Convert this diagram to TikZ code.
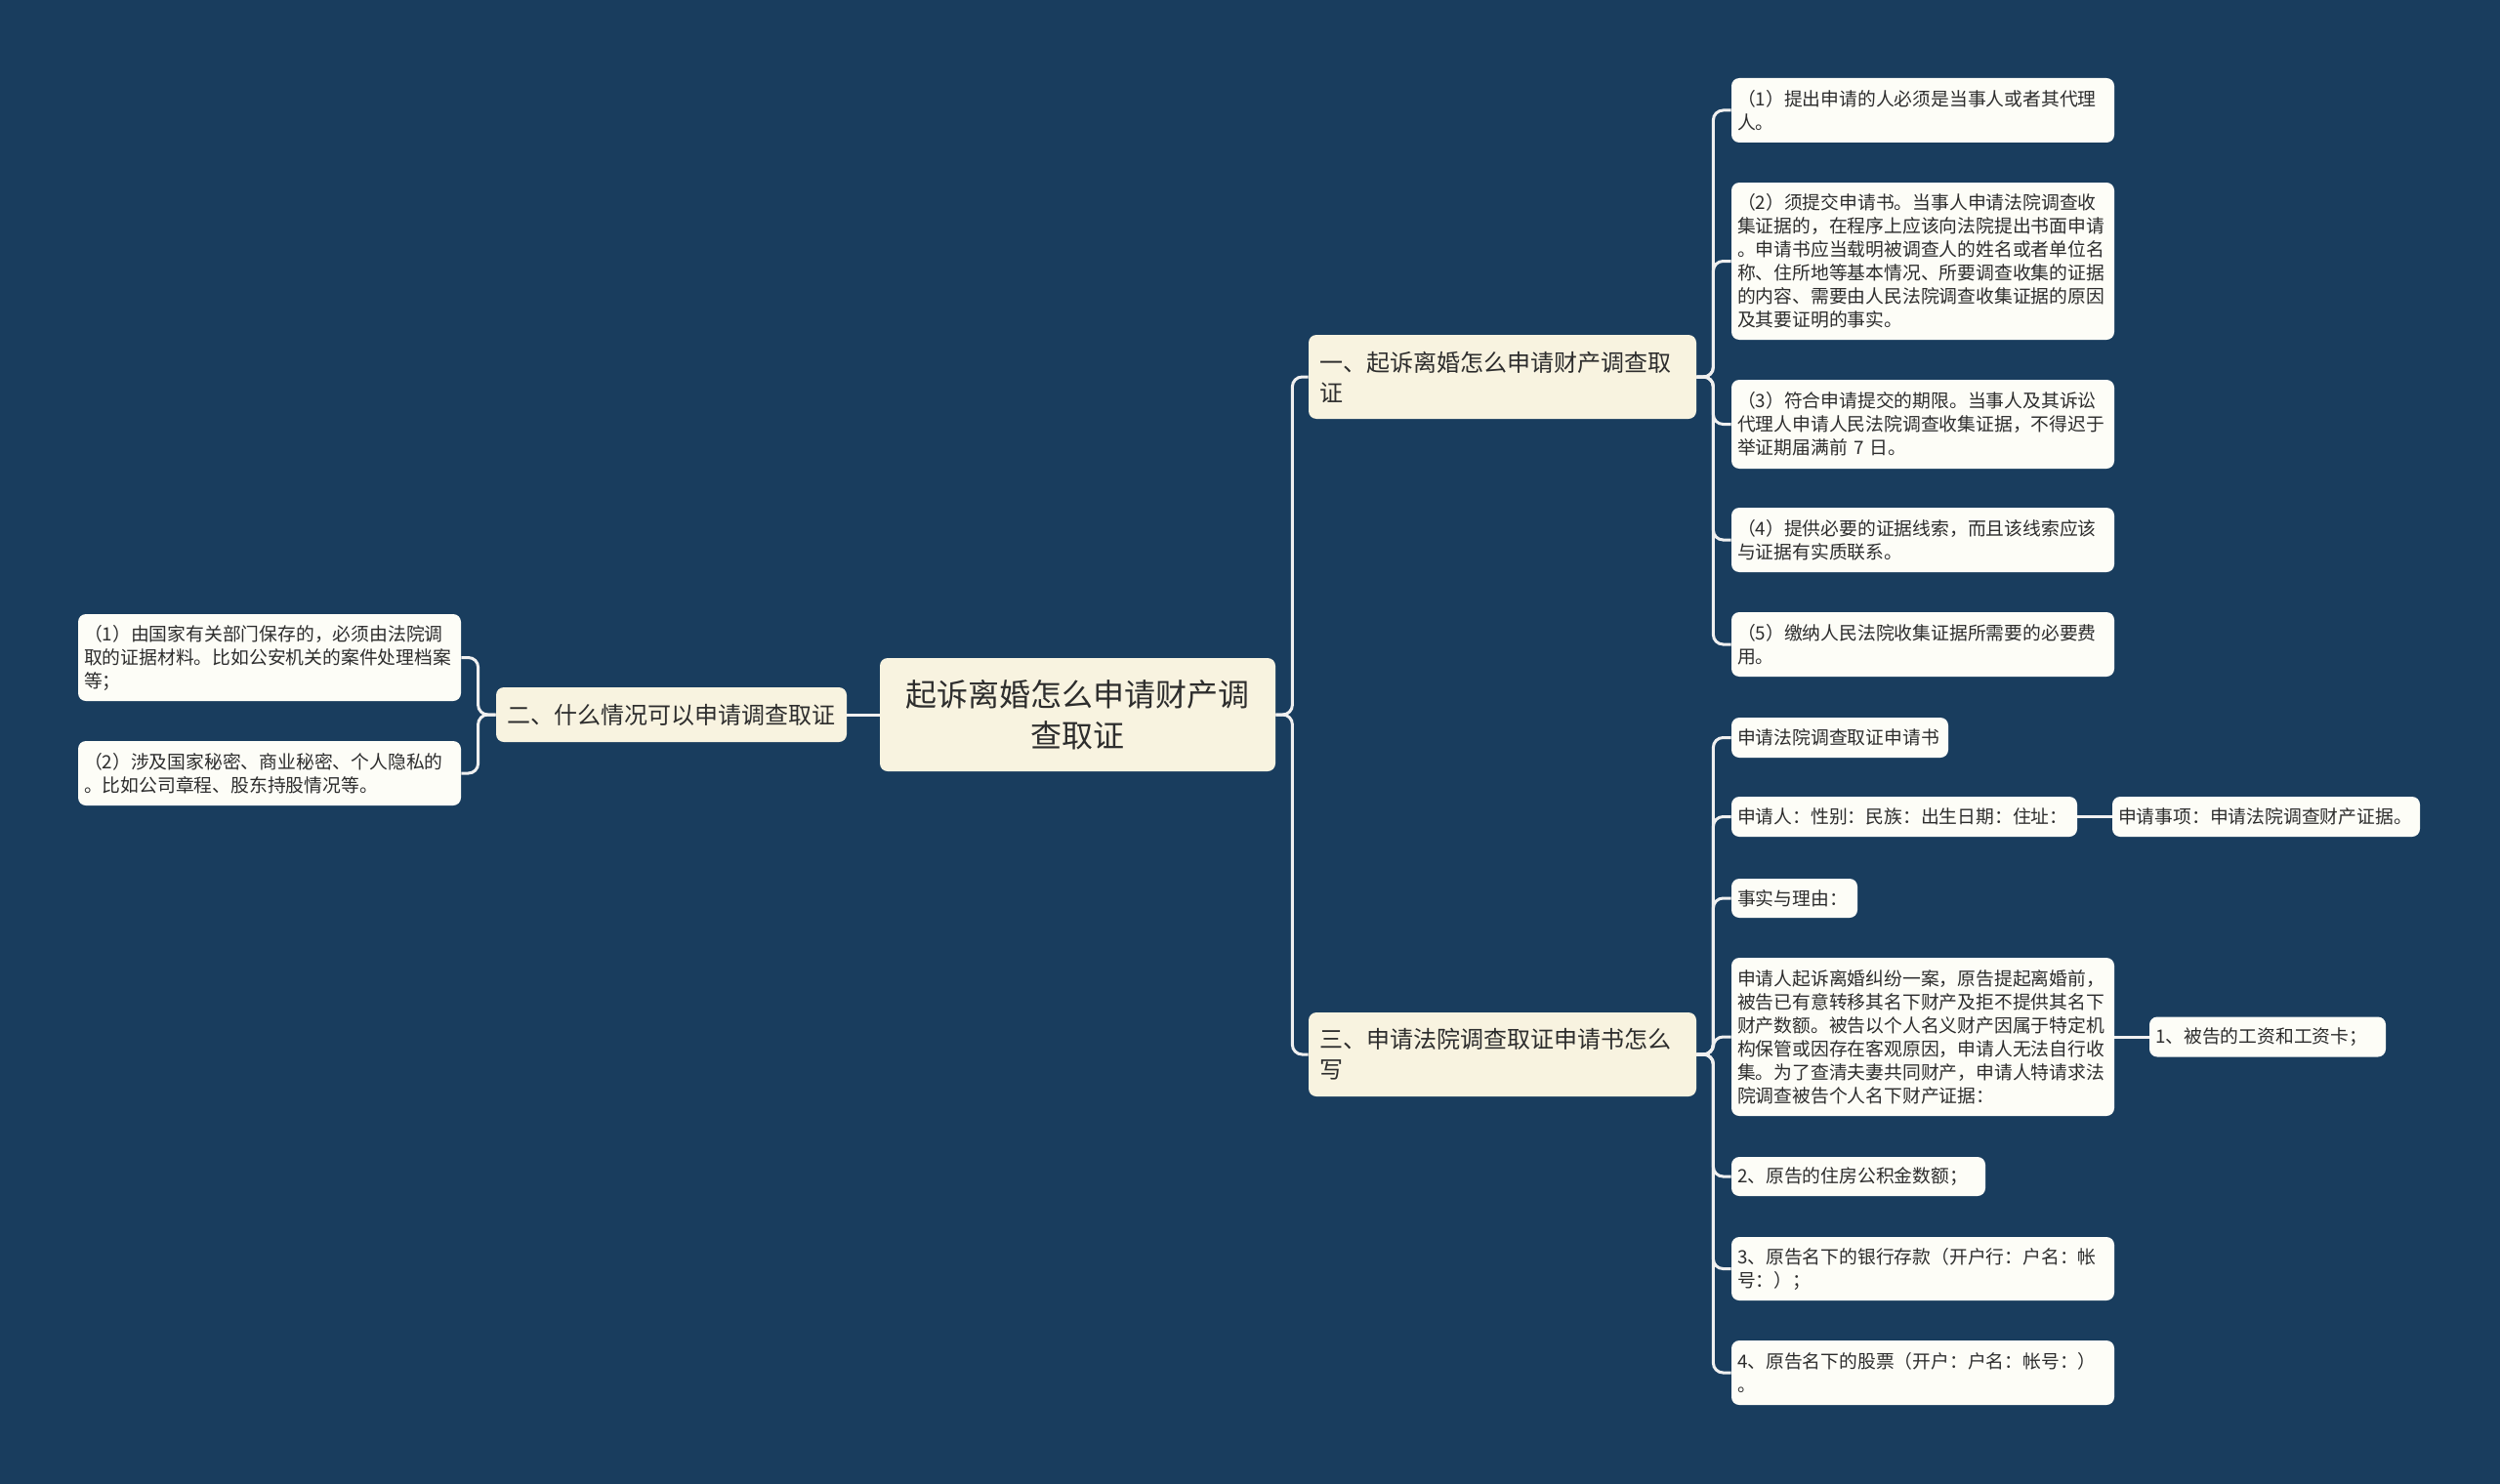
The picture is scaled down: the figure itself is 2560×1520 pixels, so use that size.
\documentclass[tikz,border=0pt]{standalone}
\usepackage{fontspec}
\setmainfont{Noto Sans CJK SC}
\definecolor{bg}{RGB}{25,61,94}
\definecolor{mainfill}{RGB}{248,243,224}
\definecolor{leaffill}{RGB}{253,253,247}
\definecolor{txt}{RGB}{45,45,45}
\definecolor{linec}{RGB}{240,240,240}
\begin{document}
\begin{tikzpicture}[x=0.5pt,y=-0.5pt,
  conn/.style={draw=linec, line width=1.5pt, rounded corners=5pt},
  rootbox/.style={fill=mainfill, rounded corners=4pt, text=txt, font=\fontsize{16}{21}\selectfont, align=center, inner xsep=8pt, inner ysep=0pt, text width=186.5pt},
  secbox/.style={fill=mainfill, rounded corners=4pt, text=txt, font=\fontsize{12}{15.5}\selectfont, align=left, inner xsep=5.5pt, inner ysep=0pt},
  leaf/.style={fill=leaffill, rounded corners=4pt, text=txt, font=\fontsize{9.4}{12}\selectfont, align=left, inner xsep=3pt, inner ysep=0pt}
]
\fill[bg] (0,0) rectangle (2560,1520);
\useasboundingbox (0,0) rectangle (2560,1520);

% root and sections
\node[rootbox, minimum height=58pt] (root) at (1103.5,732) {起诉离婚怎么申请财产调\\查取证};
\node[secbox, text width=187.5pt, minimum height=43pt] (s1) at (1538.5,386) {一、起诉离婚怎么申请财产调查取\\证};
\node[secbox, text width=168.5pt, minimum height=28pt] (s2) at (687.5,732) {二、什么情况可以申请调查取证};
\node[secbox, text width=187.5pt, minimum height=43pt] (s3) at (1538.5,1080) {三、申请法院调查取证申请书怎么\\写};

% section 1 leaves
\node[leaf, text width=190pt, minimum height=33pt] (r1) at (1969,113) {（1）提出申请的人必须是当事人或者其代理\\人。};
\node[leaf, text width=190pt, minimum height=80.5pt] (r2) at (1969,267.5) {（2）须提交申请书。当事人申请法院调查收\\集证据的，在程序上应该向法院提出书面申请\\。申请书应当载明被调查人的姓名或者单位名\\称、住所地等基本情况、所要调查收集的证据\\的内容、需要由人民法院调查收集证据的原因\\及其要证明的事实。};
\node[leaf, text width=190pt, minimum height=45.5pt] (r3) at (1969,434.5) {（3）符合申请提交的期限。当事人及其诉讼\\代理人申请人民法院调查收集证据，不得迟于\\举证期届满前 7 日。};
\node[leaf, text width=190pt, minimum height=33pt] (r4) at (1969,553) {（4）提供必要的证据线索，而且该线索应该\\与证据有实质联系。};
\node[leaf, text width=190pt, minimum height=33pt] (r5) at (1969,660) {（5）缴纳人民法院收集证据所需要的必要费\\用。};

% section 2 leaves
\node[leaf, text width=190pt, minimum height=44.5pt] (l1) at (276,673.5) {（1）由国家有关部门保存的，必须由法院调\\取的证据材料。比如公安机关的案件处理档案\\等；};
\node[leaf, text width=190pt, minimum height=33pt] (l2) at (276,792) {（2）涉及国家秘密、商业秘密、个人隐私的\\。比如公司章程、股东持股情况等。};

% section 3 leaves
\node[leaf, text width=105pt, minimum height=20.5pt] (c1) at (1884,755.5) {申请法院调查取证申请书};
\node[leaf, text width=171pt, minimum height=20.5pt] (c2) at (1950,836.5) {申请人：性别：民族：出生日期：住址：};
\node[leaf, text width=151.5pt, minimum height=20.5pt] (c2a) at (2320.5,836.5) {申请事项：申请法院调查财产证据。};
\node[leaf, text width=58.5pt, minimum height=20pt] (c3) at (1837.5,920) {事实与理由：};
\node[leaf, text width=190pt, minimum height=81pt] (c4) at (1969,1062) {申请人起诉离婚纠纷一案，原告提起离婚前，\\被告已有意转移其名下财产及拒不提供其名下\\财产数额。被告以个人名义财产因属于特定机\\构保管或因存在客观原因，申请人无法自行收\\集。为了查清夫妻共同财产，申请人特请求法\\院调查被告个人名下财产证据：};
\node[leaf, text width=115pt, minimum height=20.5pt] (c4a) at (2322,1062) {1、被告的工资和工资卡；};
\node[leaf, text width=124pt, minimum height=20pt] (c5) at (1903,1205) {2、原告的住房公积金数额；};
\node[leaf, text width=190pt, minimum height=32.5pt] (c6) at (1969,1299.5) {3、原告名下的银行存款（开户行：户名：帐\\号：）；};
\node[leaf, text width=190pt, minimum height=33pt] (c7) at (1969,1406) {4、原告名下的股票（开户：户名：帐号：）\\。};

% connectors
\draw[conn] (root.east) -- ++(17,0) |- (s1.west);
\draw[conn] (root.east) -- ++(17,0) |- (s3.west);
\draw[conn] (root.west) -- (s2.east);

\foreach \n in {r1,r2,r3,r4,r5}
  \draw[conn] (s1.east) -- ++(17,0) |- (\n.west);
\foreach \n in {c1,c2,c3,c4,c5,c6,c7}
  \draw[conn] (s3.east) -- ++(17,0) |- (\n.west);
\foreach \n in {l1,l2}
  \draw[conn] (s2.west) -- ++(-18,0) |- (\n.east);

\draw[conn] (c2.east) -- (c2a.west);
\draw[conn] (c4.east) -- (c4a.west);
\end{tikzpicture}
\end{document}
